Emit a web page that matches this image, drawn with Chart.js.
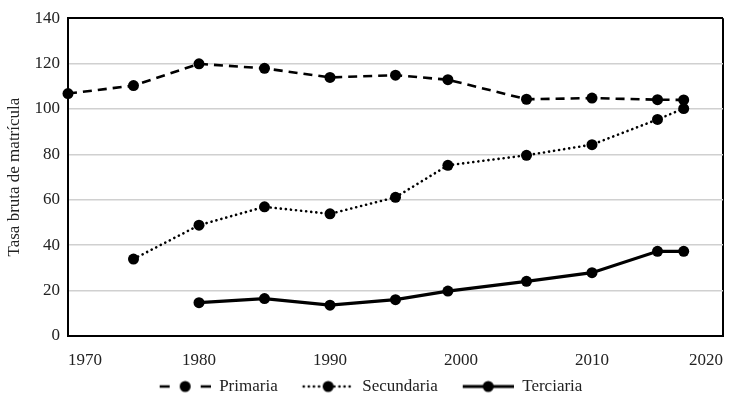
<!DOCTYPE html>
<html>
<head>
<meta charset="utf-8">
<script src="https://cdn.jsdelivr.net/npm/chart.js@4/dist/chart.umd.min.js"></script>
<style>
html,body{margin:0;padding:0;background:#fff;}
#wrap{width:734px;height:408px;}
</style>
</head>
<body>
<div id="wrap"><canvas id="c" width="734" height="408"></canvas></div>
<script>
const primariaYears = [1970,1975,1980,1985,1990,1995,1999,2005,2010,2015,2017];
const primaria = [106.8,110.3,119.9,117.9,113.9,114.9,112.9,104.3,104.8,104.1,104.0];
const secundariaYears = [1975,1980,1985,1990,1995,1999,2005,2010,2015,2017];
const secundaria = [33.9,48.8,56.9,53.8,61.1,75.2,79.6,84.3,95.4,100.2];
const terciariaYears = [1980,1985,1990,1995,1999,2005,2010,2015,2017];
const terciaria = [14.7,16.5,13.6,16.0,19.8,24.1,27.9,37.3,37.3];
const seriesNames = ['Primaria','Secundaria','Terciaria'];
const xTicks = [1970,1980,1990,2000,2010,2020];
const yTicks = [0,20,40,60,80,100,120,140];
const yTitle = 'Tasa bruta de matrícula';

const FONT = "'Liberation Serif', 'Times New Roman', serif";
const FS = 17;
const pts = (xs, ys) => xs.map((x,i)=>({x:x, y:ys[i]}));

const ICON_W = 66, ICON_OFF = 15;
function legendIcon(kind, width) {
  const c = document.createElement('canvas');
  c.width = ICON_W; c.height = 14;
  const g = c.getContext('2d');
  g.strokeStyle = '#000';
  g.lineWidth = width;
  const x0 = ICON_OFF, x1 = ICON_W, xm = (x0 + x1) / 2;
  g.beginPath();
  if (kind === 'dash') {
    g.moveTo(x0,7); g.lineTo(x0+10,7);
    g.moveTo(x1-10,7); g.lineTo(x1,7);
  } else if (kind === 'dot') {
    g.setLineDash([0.1,5]);
    g.lineCap = 'round';
    g.moveTo(x0+1,7); g.lineTo(x1-1,7);
  } else {
    g.moveTo(x0,7); g.lineTo(x1,7);
  }
  g.stroke();
  g.setLineDash([]);
  g.fillStyle = '#000';
  g.beginPath(); g.arc(xm,7,5.5,0,Math.PI*2); g.fill();
  return c;
}

const styles = [
  {kind:'dash', dash:[9,6], width:2.6, cap:'butt'},
  {kind:'dot', dash:[0.1,5], width:2.6, cap:'round'},
  {kind:'solid', dash:[], width:3.2, cap:'butt'}
];
const dataSets = [pts(primariaYears, primaria), pts(secundariaYears, secundaria), pts(terciariaYears, terciaria)];

const datasets = seriesNames.map((n,i)=>({
  label: n,
  data: dataSets[i],
  borderColor: '#000',
  backgroundColor: '#000',
  borderWidth: styles[i].width,
  borderDash: styles[i].dash,
  borderCapStyle: styles[i].cap,
  pointRadius: 5.5,
  pointHoverRadius: 5.5,
  pointBackgroundColor: '#000',
  pointBorderWidth: 0,
  tension: 0,
  clip: false,
  pointStyle: 'circle'
}));

const icons = styles.map(s=>legendIcon(s.kind, s.width));

new Chart(document.getElementById('c'), {
  type: 'line',
  data: { datasets },
  options: {
    responsive: false,
    animation: false,
    devicePixelRatio: 1,
    layout: { padding: { left: 4, right: 11, top: 15, bottom: 3 } },
    plugins: {
      tooltip: { enabled: false },
      legend: {
        position: 'bottom',
        labels: {
          usePointStyle: true,
          pointStyleWidth: ICON_W,
          boxHeight: 14,
          padding: 10,
          color: '#222',
          font: { family: FONT, size: FS },
          generateLabels: (chart) => chart.data.datasets.map((d,i)=>({
            text: d.label,
            pointStyle: icons[i],
            fillStyle: '#000',
            strokeStyle: '#000',
            lineWidth: 0,
            fontColor: '#222',
            datasetIndex: i,
            hidden: false
          }))
        }
      }
    },
    scales: {
      x: {
        type: 'linear',
        min: 1970, max: 2020,
        afterBuildTicks: (s) => { s.ticks = xTicks.map(v=>({value:v})); },
        afterFit: (s) => { s.height = 32; s.paddingLeft = 0; s.paddingRight = 0; },
        ticks: {
          align: 'inner',
          padding: 14,
          color: '#222',
          font: { family: FONT, size: FS },
          callback: (v) => String(v)
        },
        grid: {
          drawTicks: false,
          lineWidth: 2,
          color: (ctx) => (ctx.tick && ctx.tick.value === 2020) ? '#000' : 'rgba(0,0,0,0)'
        },
        border: { color: '#000', width: 2 }
      },
      y: {
        min: 0, max: 140,
        afterBuildTicks: (s) => { s.ticks = yTicks.map(v=>({value:v})); },
        afterFit: (s) => { s.width = 64; },
        ticks: {
          padding: 8,
          color: '#222',
          font: { family: FONT, size: FS }
        },
        grid: {
          drawTicks: false,
          lineWidth: (ctx) => (ctx.tick && ctx.tick.value === 140) ? 2 : 1.5,
          color: (ctx) => {
            const v = ctx.tick && ctx.tick.value;
            if (v === 140) return '#000';
            if (v === 0) return 'rgba(0,0,0,0)';
            return '#d0d0d0';
          }
        },
        border: { color: '#000', width: 2 },
        title: {
          display: true,
          text: yTitle,
          color: '#222',
          font: { family: FONT, size: FS },
          padding: { top: 0, bottom: 4 }
        }
      }
    }
  }
});
</script>
</body>
</html>
